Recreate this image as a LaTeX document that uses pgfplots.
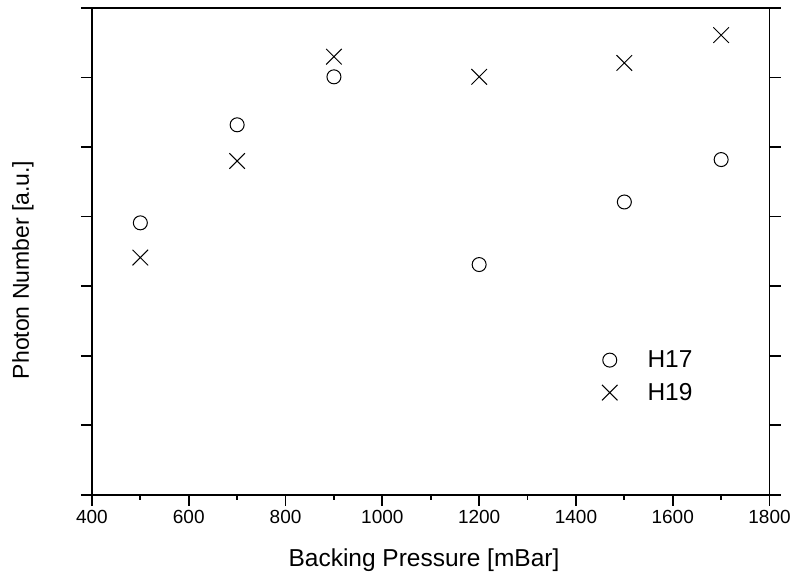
\documentclass[border=0pt]{standalone}
\usepackage{pgfplots}
\pgfplotsset{compat=1.18}
\usepackage{fontspec}
\setmainfont{Liberation Sans}
\begin{document}
\begin{tikzpicture}
\begin{axis}[
  name=ax,
  scale only axis,
  width=678pt, height=487pt,
  xmin=400, xmax=1800, ymin=0, ymax=7,
  xtick={400,600,...,1800},
  minor x tick num=1,
  ytick={0,1,...,7},
  yticklabels={},
  xtick pos=lower,
  ytick pos=both,
  tick align=outside,
  major tick length=11pt,
  minor tick length=5pt,
  axis line style={line width=1.8pt},
  every tick/.style={line width=1.8pt, black},
  /pgf/number format/assume math mode=true,
  /pgf/number format/1000 sep={},
  xticklabel style={font=\fontsize{19}{22}\selectfont, yshift=-1pt},
  xlabel={Backing Pressure [mBar]},
  ylabel={Photon Number [a.u.]},
  xlabel style={font=\fontsize{24.5}{28}\selectfont, at={(axis description cs:0.49,-0.148)}, anchor=base},
  ylabel style={font=\fontsize{23}{27}\selectfont, at={(axis description cs:-0.102,0.462)}, anchor=center, rotate=0},
  legend style={draw=none, fill=none, font=\fontsize{24.5}{28}\selectfont, at={(axis description cs:0.748,0.304)}, anchor=north west, row sep=10pt},
  legend cell align=left,
]
\addplot[only marks, mark=o, mark size=7pt, line width=1.0pt, black] coordinates {
 (500,3.91) (700,5.32) (900,6.01) (1200,3.31) (1500,4.21) (1700,4.82)};
\addlegendentry{\hspace{28pt}H17}
\addplot[only marks, mark=x, mark size=11pt, line width=1.0pt, black] coordinates {
 (500,3.41) (700,4.80) (900,6.30) (1200,6.01) (1500,6.21) (1700,6.61)};
\addlegendentry{\hspace{28pt}H19}
\end{axis}
\path ([shift={(-92pt,-83pt)}]ax.south west) rectangle ([shift={(702pt,495pt)}]ax.south west);
\end{tikzpicture}
\end{document}
